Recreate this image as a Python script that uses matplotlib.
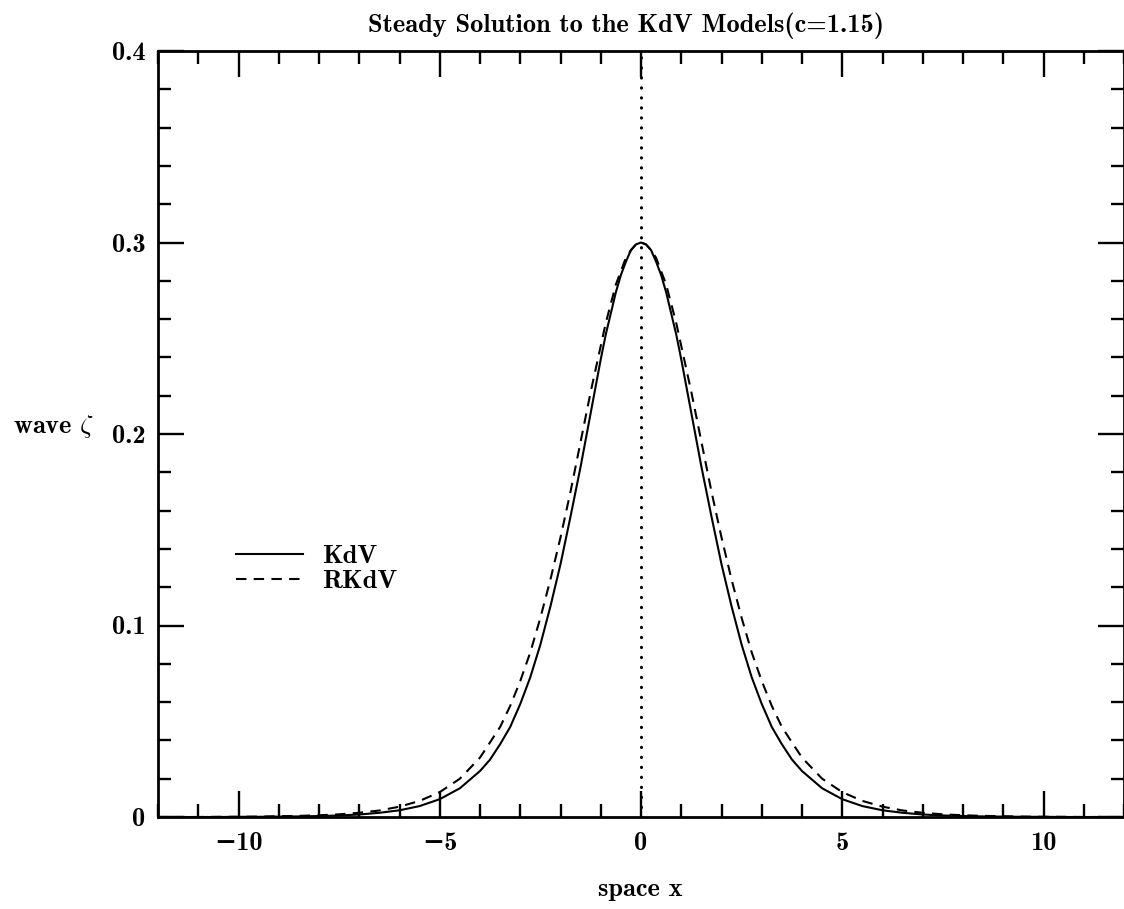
import numpy as np
import matplotlib
matplotlib.use("Agg")
import matplotlib.pyplot as plt

plt.rcParams["font.family"] = ["cmb10", "DejaVu Serif"]
plt.rcParams["mathtext.fontset"] = "cm"

# x positions of the read-off points (right half, mirrored below)
x_half = [0.0, 0.125, 0.25, 0.375, 0.5, 0.625, 0.75, 0.875, 1.0, 1.25, 1.5,
          1.75, 2.0, 2.25, 2.5, 2.75, 3.0, 3.25, 3.5, 3.75, 4.0, 4.5, 5.0,
          5.5, 6.0, 6.5, 7.0, 7.5, 8.0, 8.5, 9.0, 9.5, 10.0, 10.5, 11.0,
          11.5, 12.0]
kdv_half = [0.300, 0.299, 0.296, 0.290, 0.283, 0.274, 0.263, 0.252, 0.239,
            0.211, 0.183, 0.157, 0.132, 0.110, 0.090, 0.073, 0.059, 0.047,
            0.038, 0.030, 0.024, 0.015, 0.0093, 0.0057, 0.0035, 0.0022,
            0.0013, 0.0008, 0.0005, 0.0003, 0.0002, 0.0001, 0.0001, 0.0,
            0.0, 0.0, 0.0]
rkdv_half = [0.300, 0.299, 0.296, 0.292, 0.285, 0.278, 0.268, 0.258, 0.246,
             0.222, 0.196, 0.170, 0.146, 0.124, 0.104, 0.086, 0.071, 0.058,
             0.047, 0.039, 0.031, 0.020, 0.0130, 0.0084, 0.0054, 0.0034,
             0.0022, 0.0014, 0.0009, 0.0006, 0.0004, 0.0002, 0.0001, 0.0001,
             0.0, 0.0, 0.0]

xticks = [-10, -5, 0, 5, 10]
xtick_labels = ["\u221210", "\u22125", "0", "5", "10"]
yticks = [0.0, 0.1, 0.2, 0.3, 0.4]
ytick_labels = ["0", "0.1", "0.2", "0.3", "0.4"]

# symmetric profiles
x = np.concatenate([-np.array(x_half[:0:-1]), x_half])
kdv = np.concatenate([kdv_half[:0:-1], kdv_half])
rkdv = np.concatenate([rkdv_half[:0:-1], rkdv_half])

W, H = 1124, 909
fs = 19
fig = plt.figure(figsize=(W / 100, H / 100), dpi=100)
ax = fig.add_axes([158 / W, 92 / H, 966 / W, 766 / H])

ax.plot(x, kdv, color="black", lw=1.5, label="KdV")
ax.plot(x, rkdv, color="black", lw=1.5, dashes=(5, 3.5), label="RKdV")
ax.axvline(0, color="black", lw=2.2, dashes=(0.1, 3.17),
           dash_capstyle="round")

ax.set_xlim(-12, 12)
ax.set_ylim(0, 0.4)
ax.set_xticks(xticks, xtick_labels, fontsize=fs, fontweight="bold")
ax.set_xticks(np.arange(-12, 13, 1), minor=True)
ax.set_yticks(yticks, ytick_labels, fontsize=fs)
ax.set_yticks(np.arange(0, 0.41, 0.02), minor=True)
ax.tick_params(which="both", direction="in", top=True, right=True, width=1.7)
ax.tick_params(which="major", length=19)
ax.tick_params(which="minor", length=9.5)
ax.tick_params(axis="x", pad=11)
ax.tick_params(axis="y", pad=9)
for s in ax.spines.values():
    s.set_linewidth(2)

ax.legend(loc="upper left", bbox_to_anchor=(0.081, 0.356), frameon=False,
          fontsize=fs, handlelength=2.54, handletextpad=0.7,
          labelspacing=0.06, borderpad=0, borderaxespad=0)

fig.text(626 / W, 1 - 32 / H, "Steady Solution to the KdV Models(c=1.15)",
         ha="center", va="baseline", fontsize=fs)
fig.text(13 / W, 1 - 433 / H, r"wave $\zeta$", ha="left", va="baseline",
         fontsize=fs)
fig.text(640 / W, 1 - 896 / H, "space x", ha="center", va="baseline",
         fontsize=fs)

fig.savefig("out.png", dpi=100)
